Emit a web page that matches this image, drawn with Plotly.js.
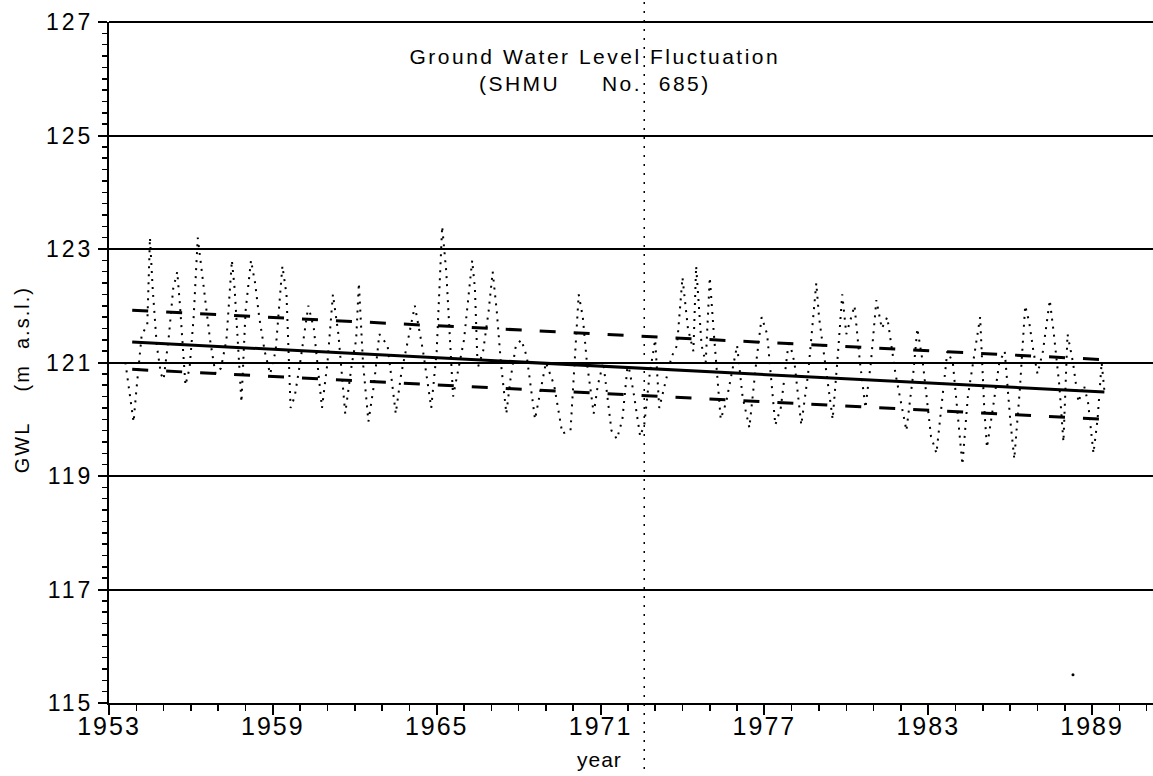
<!DOCTYPE html>
<html><head><meta charset="utf-8">
<script src="https://cdn.plot.ly/plotly-3.0.1.min.js"></script>
<style>
html,body{margin:0;padding:0;background:#fff}
#chart{width:1153px;height:776px}
#chart .xtick text{letter-spacing:2px}
#chart .ytick text{letter-spacing:3px}
#chart .annotation[data-index="0"] text{letter-spacing:2.5px}
#chart .annotation[data-index="1"] text{letter-spacing:2px}
#chart .annotation[data-index="2"] text{letter-spacing:1px}
</style>
</head><body><div id="chart"></div>
<script>
const obsYear = [
 1953.6, 1953.75, 1953.9,
 1954.0, 1954.2, 1954.4, 1954.5, 1954.6, 1954.75, 1954.9,
 1955.0, 1955.2, 1955.35, 1955.5, 1955.6, 1955.8, 1955.95,
 1956.1, 1956.25, 1956.4, 1956.5, 1956.7, 1956.9,
 1957.1, 1957.3, 1957.5, 1957.6, 1957.75, 1957.85,
 1958.0, 1958.2, 1958.35, 1958.5, 1958.7, 1958.9,
 1959.1, 1959.35, 1959.5, 1959.65, 1959.8,
 1960.0, 1960.3, 1960.5, 1960.8,
 1961.0, 1961.2, 1961.4, 1961.65, 1961.9,
 1962.05, 1962.15, 1962.3, 1962.5, 1962.7, 1962.9,
 1963.2, 1963.5, 1963.7, 1963.9,
 1964.2, 1964.5, 1964.8,
 1965.0, 1965.2, 1965.35, 1965.5, 1965.6, 1965.8,
 1966.0, 1966.3, 1966.4, 1966.5, 1966.7, 1966.9,
 1967.05, 1967.2, 1967.35, 1967.55, 1967.7, 1967.9,
 1968.1, 1968.3, 1968.6, 1968.8,
 1969.0, 1969.3, 1969.6, 1969.9,
 1970.1, 1970.2, 1970.35, 1970.5, 1970.75, 1970.9,
 1971.1, 1971.4, 1971.6, 1971.8,
 1972.0, 1972.2, 1972.45, 1972.6, 1972.8,
 1973.0, 1973.15, 1973.35, 1973.6, 1973.8,
 1974.0, 1974.2, 1974.4, 1974.5, 1974.7, 1974.85,
 1975.0, 1975.15, 1975.4, 1975.6, 1975.8,
 1976.0, 1976.2, 1976.45, 1976.7, 1976.9,
 1977.1, 1977.4, 1977.6, 1977.9,
 1978.1, 1978.35, 1978.6, 1978.9,
 1979.0, 1979.3, 1979.5, 1979.7, 1979.85,
 1980.0, 1980.3, 1980.5, 1980.7, 1980.9,
 1981.1, 1981.3, 1981.5, 1981.8,
 1982.1, 1982.2, 1982.45, 1982.6, 1982.8,
 1983.1, 1983.3, 1983.5, 1983.7, 1983.9,
 1984.1, 1984.25, 1984.45, 1984.7, 1984.9,
 1985.05, 1985.15, 1985.4, 1985.6, 1985.8,
 1986.0, 1986.15, 1986.35, 1986.55, 1986.7, 1986.85,
 1987.0, 1987.2, 1987.45, 1987.6, 1987.8, 1987.95,
 1988.1, 1988.3, 1988.5, 1988.7, 1988.85,
 1989.05, 1989.2, 1989.35, 1989.45
];
const obsGwl = [
 121.0, 120.5, 119.95,
 120.5, 121.5, 121.65, 123.2, 122.3, 121.3, 120.8,
 120.7, 121.5, 122.3, 122.6, 122.0, 120.6, 120.9,
 121.8, 123.2, 122.6, 122.2, 121.4, 120.8,
 120.9, 121.4, 122.8, 122.3, 121.0, 120.3,
 121.9, 122.8, 122.4, 121.8, 121.2, 120.8,
 121.2, 122.7, 122.2, 120.2, 120.4,
 121.0, 122.0, 121.6, 120.2,
 121.0, 122.2, 121.5, 120.1, 121.0,
 121.4, 122.4, 121.0, 119.96, 120.6, 121.5,
 121.3, 120.1, 120.8, 121.3,
 122.0, 121.2, 120.2,
 121.2, 123.4, 122.6, 121.3, 120.4, 120.9,
 121.4, 122.8, 122.3, 120.9, 121.2, 121.9,
 122.6, 121.9, 121.0, 120.1, 120.7, 121.3,
 121.4, 121.1, 120.0, 120.5,
 121.0, 120.6, 119.75, 119.8,
 121.3, 122.2, 121.8, 121.0, 120.1, 120.6,
 121.0, 119.8, 119.65, 120.0,
 121.0, 120.5, 119.7, 119.9, 120.8,
 121.4, 120.2, 120.6, 121.1, 121.3,
 122.5, 121.6, 121.2, 122.7, 121.3, 121.0,
 122.5, 121.5, 120.0, 120.3, 120.8,
 121.3, 120.4, 119.85, 121.0, 121.8,
 121.5, 119.9, 120.2, 121.4,
 121.0, 119.9, 120.8, 122.4,
 121.8, 120.7, 120.0, 121.2, 122.2,
 121.5, 122.0, 121.0, 120.2, 121.0,
 122.1, 121.6, 121.8, 120.8,
 120.0, 119.8, 120.8, 121.6, 121.0,
 119.7, 119.4, 120.3, 121.2, 121.0,
 120.0, 119.2, 120.4, 121.2, 121.8,
 120.2, 119.5, 120.3, 121.0, 121.2,
 120.0, 119.3, 120.5, 122.0, 121.7, 121.2,
 120.8, 121.2, 122.1, 121.5, 120.6, 119.6,
 121.5, 121.0, 120.3, 120.6, 120.3,
 119.4, 120.0, 121.0, 120.5
];
// Linear trend and band (start / end)
const bandYears = [1953.85, 1989.45];
const trendGwl = [121.36, 120.48];
const upperGwl = [121.92, 121.05];
const lowerGwl = [120.88, 120.00];
// Isolated dot
const strayYear = [1988.3];
const strayGwl = [115.5];
// Vertical marker year
const markerYear = 1972.6;
// Axis ticks
const yTicks = [115, 117, 119, 121, 123, 125, 127];
const xTicks = [1953, 1959, 1965, 1971, 1977, 1983, 1989];

const traces = [
 {x: obsYear, y: obsGwl, type: 'scatter', mode: 'lines',
  line: {color: '#000', width: 2, dash: '2px,6px'}, hoverinfo: 'skip'},
 {x: bandYears, y: upperGwl, type: 'scatter', mode: 'lines',
  line: {color: '#000', width: 3, dash: '16px,18px'}},
 {x: bandYears, y: lowerGwl, type: 'scatter', mode: 'lines',
  line: {color: '#000', width: 3, dash: '16px,18px'}},
 {x: bandYears, y: trendGwl, type: 'scatter', mode: 'lines',
  line: {color: '#000', width: 3}},
 {x: strayYear, y: strayGwl, type: 'scatter', mode: 'markers',
  marker: {color: '#000', size: 3}}
];

const layout = {
 width: 1153, height: 776,
 margin: {l: 109, r: 0, t: 22, b: 73},
 showlegend: false,
 paper_bgcolor: '#fff', plot_bgcolor: '#fff',
 font: {family: 'Liberation Sans, Arial, sans-serif', color: '#000'},
 xaxis: {
  range: [1953, 1991.23], tickmode: 'array', tickvals: xTicks, ticktext: xTicks.map(String),
  ticks: 'outside', ticklen: 10, tickwidth: 2, tickcolor: '#000', ticklabelstandoff: -10,
  showline: true, linewidth: 2, linecolor: '#000', showgrid: false, zeroline: false,
  tickfont: {size: 25},
  minor: {tickmode: 'linear', tick0: 1953, dtick: 1, ticks: 'outside', ticklen: 6, tickwidth: 1.5, tickcolor: '#000', showgrid: false}
 },
 yaxis: {
  range: [115, 127], tickmode: 'array', tickvals: yTicks, ticktext: yTicks.map(String),
  ticks: 'outside', ticklen: 9, tickwidth: 2, tickcolor: '#000',
  showline: true, linewidth: 2, linecolor: '#000',
  showgrid: true, gridcolor: '#000', gridwidth: 2, zeroline: false,
  tickfont: {size: 23},
  minor: {tickmode: 'linear', tick0: 115, dtick: 0.2, ticks: 'outside', ticklen: 5, tickwidth: 1.5, tickcolor: '#000', showgrid: false}
 },
 shapes: [
  {type: 'line', xref: 'paper', yref: 'paper', x0: 0, x1: 1, y0: 1, y1: 1,
   line: {color: '#000', width: 2}},
  {type: 'line', xref: 'x', yref: 'paper', x0: markerYear, x1: markerYear, y0: -0.11, y1: 1.04,
   line: {color: '#000', width: 1.5, dash: '2px,7px'}}
 ],
 annotations: [
  {xref: 'paper', yref: 'paper', x: 0.4655, y: 0.93, xanchor: 'center', yanchor: 'middle', showarrow: false,
   text: 'Ground Water Level Fluctuation<br>(SHMU\u00a0\u00a0\u00a0\u00a0\u00a0No.\u00a0\u00a0685)', font: {size: 21}},
  {xref: 'paper', yref: 'paper', x: -0.0833, y: 0.474, xanchor: 'center', yanchor: 'middle', showarrow: false,
   textangle: -90, text: 'GWL\u00a0\u00a0\u00a0\u00a0(m\u00a0\u00a0a.s.l.)', font: {size: 20}},
  {xref: 'paper', yref: 'paper', x: 0.470, y: -0.0837, xanchor: 'center', yanchor: 'middle', showarrow: false,
   text: 'year', font: {size: 21}}
 ]
};

Plotly.newPlot('chart', traces, layout, {displayModeBar: false, staticPlot: true});
</script>
</body></html>
